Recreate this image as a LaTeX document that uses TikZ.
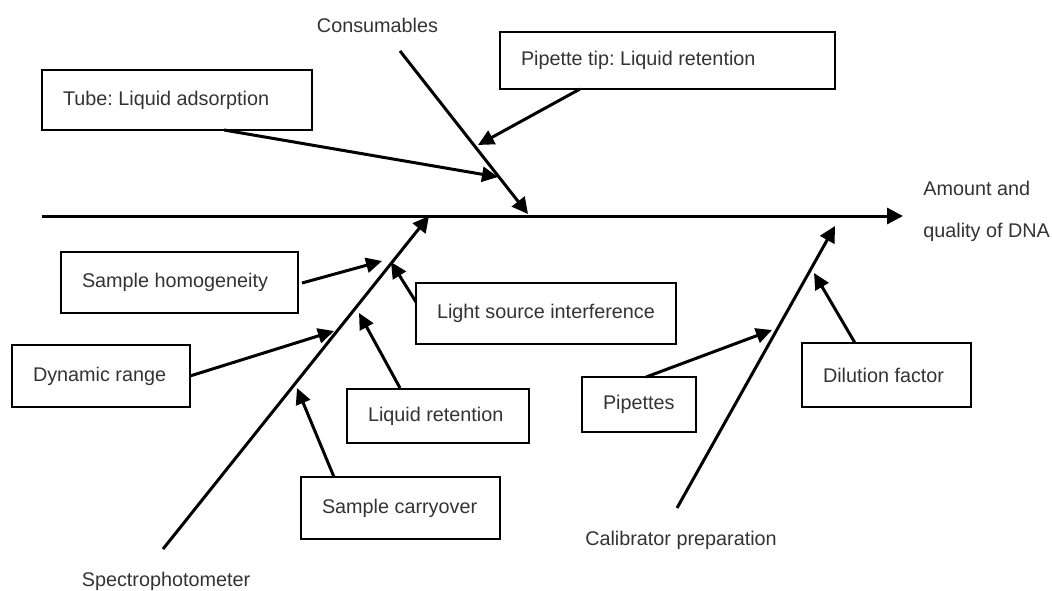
\documentclass[tikz,border=0pt]{standalone}
\usepackage{fontspec}
\setmainfont{Liberation Sans}
\usetikzlibrary{arrows.meta}
\frenchspacing
\begin{document}
\begin{tikzpicture}[x=0.5pt,y=-0.5pt,
  every node/.style={font=\fontsize{9.9}{12}\selectfont, text=black!80},
  box/.style={draw=black, line width=0.8pt, rectangle, inner xsep=10.5pt, inner ysep=0pt},
  bone/.style={line width=1.5pt, -{Triangle[length=8pt,width=8pt]}},
  sub/.style={line width=1.5pt, -{Triangle[length=8pt,width=7.5pt]}},
  lbl/.style={inner sep=0pt}]
\useasboundingbox (0,0) rectangle (1052,590);
% boxes
\node[box, minimum width=135pt, minimum height=30pt] (tube) at (177,100) {\frenchspacing\makebox[114pt][l]{Tube: Liquid adsorption}};
\node[box, minimum width=167.5pt, minimum height=28.5pt] (ptip) at (667.5,60.5) {\frenchspacing\makebox[146.5pt][l]{Pipette tip: Liquid retention}};
\node[box, minimum width=118.5pt, minimum height=30.5pt] (homog) at (179.5,282.5) {\makebox[97.5pt][l]{Sample homogeneity}};
\node[box, minimum width=89pt, minimum height=31pt] (dyn) at (101,376) {\makebox[68pt][l]{Dynamic range}};
\node[box, minimum width=130pt, minimum height=30.5pt] (light) at (546,313.5) {\makebox[109pt][l]{Light source interference}};
\node[box, minimum width=91pt, minimum height=27pt] (liqret) at (438,416) {\makebox[70pt][l]{Liquid retention}};
\node[box, minimum width=99.5pt, minimum height=31pt] (carry) at (400.5,508) {\makebox[78.5pt][l]{Sample carryover}};
\node[box, minimum width=57pt, minimum height=27.5pt] (pip) at (639,404.5) {\makebox[36pt][l]{Pipettes}};
\node[box, minimum width=84.5pt, minimum height=32pt] (dil) at (886.5,375) {\makebox[63.5pt][l]{Dilution factor}};
% labels
\node[lbl] (cons) at (377.5,25) {Consumables};
\node[lbl, anchor=west, align=left, font=\fontsize{9.9}{21}\selectfont] (effect) at (923,211) {Amount and\\quality of DNA};
\node[lbl] (spec) at (166,581) {Spectrophotometer};
\node[lbl] (calib) at (681,540) {Calibrator preparation};
% coordinates
\coordinate (mainS) at (42,216);
\coordinate (mainE) at (903,216);
\coordinate (consS) at (400,51);
\coordinate (consE) at (528,214);
\coordinate (specS) at (163,549);
\coordinate (specE) at (429,216);
\coordinate (calS) at (677,508);
\coordinate (calE) at (835,226);
\coordinate (tubeS) at (224,130);
\coordinate (tubeE) at (498,177);
\coordinate (ptipS) at (580,89);
\coordinate (ptipE) at (478,145);
\coordinate (homS) at (302,283);
\coordinate (homE) at (382,261);
\coordinate (lightS) at (416,302);
\coordinate (lightE) at (391,262);
\coordinate (dynS) at (190,376);
\coordinate (dynE) at (334,331);
\coordinate (liqS) at (400,388);
\coordinate (liqE) at (359,313);
\coordinate (carS) at (334,477);
\coordinate (carE) at (297,388);
\coordinate (pipS) at (646,377);
\coordinate (pipE) at (772,330);
\coordinate (dilS) at (855,343);
\coordinate (dilE) at (814,273);
% bones
\draw[bone] (mainS) -- (mainE);
\draw[bone] (consS) -- (consE);
\draw[bone] (specS) -- (specE);
\draw[bone] (calS) -- (calE);
% sub-causes
\draw[sub] (tubeS) -- (tubeE);
\draw[sub] (ptipS) -- (ptipE);
\draw[sub] (homS) -- (homE);
\draw[sub] (lightS) -- (lightE);
\draw[sub] (dynS) -- (dynE);
\draw[sub] (liqS) -- (liqE);
\draw[sub] (carS) -- (carE);
\draw[sub] (pipS) -- (pipE);
\draw[sub] (dilS) -- (dilE);
\end{tikzpicture}
\end{document}
